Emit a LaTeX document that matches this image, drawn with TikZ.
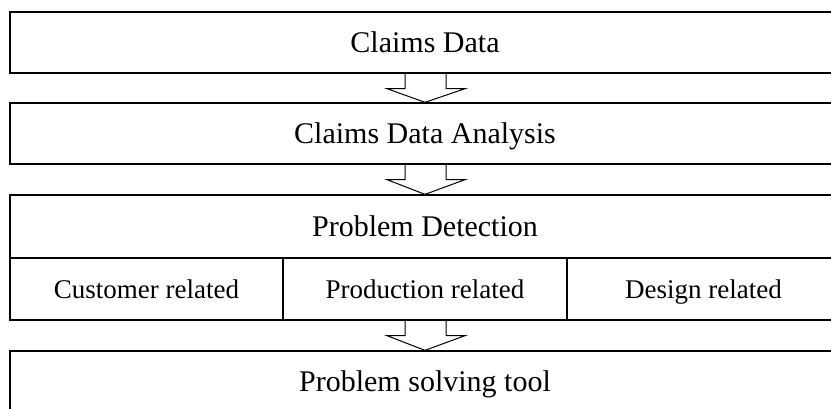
\documentclass[tikz,border=0pt]{standalone}
\usepackage{fontspec}
\setmainfont{Liberation Serif}
\usetikzlibrary{calc}
\begin{document}
\begin{tikzpicture}[x=1pt,y=-1pt,
  box/.style={draw, line width=1.3pt, rectangle, inner sep=0pt, minimum width=830pt, minimum height=61pt, text height=20pt, text depth=0pt, font=\fontsize{30}{36}\selectfont},
  cell/.style={draw, line width=1.3pt, rectangle, inner sep=0pt, minimum height=62pt, text height=18pt, text depth=0pt, font=\fontsize{27}{32}\selectfont},
  bigarrow/.style={draw, line width=1pt, line join=miter}
]
\useasboundingbox (0,0) rectangle (831,408);
\clip (0,0) rectangle (831,408);
\node[box] (b1) at (425,42.5) {Claims Data};
\node[box] (b2) at (425,133.5) {Claims Data Analysis};
\node[box, minimum height=63pt] (b3) at (425,226.5) {Problem Detection};
\node[cell, minimum width=273pt] (c1) at (146.5,289) {Customer related};
\node[cell, minimum width=284pt] (c2) at (425,289) {Production related};
\node[cell, minimum width=273pt] (c3) at (703.5,289) {Design related};
\node[box] (b4) at (425,381.5) {Problem solving tool};
\draw[bigarrow] ($(b1.south)+(-20,0)$) -- ++(0,15) -- ++(-18,0) -- (b2.north) -- ($(b1.south)+(40,15)$) -- ++(-19,0) -- ++(0,-15);
\draw[bigarrow] ($(b2.south)+(-20,0)$) -- ++(0,15) -- ++(-18,0) -- (b3.north) -- ($(b2.south)+(40,15)$) -- ++(-19,0) -- ++(0,-15);
\draw[bigarrow] ($(c2.south)+(-20,0)$) -- ++(0,15) -- ++(-18,0) -- (b4.north) -- ($(c2.south)+(40,15)$) -- ++(-19,0) -- ++(0,-15);
\end{tikzpicture}
\end{document}
